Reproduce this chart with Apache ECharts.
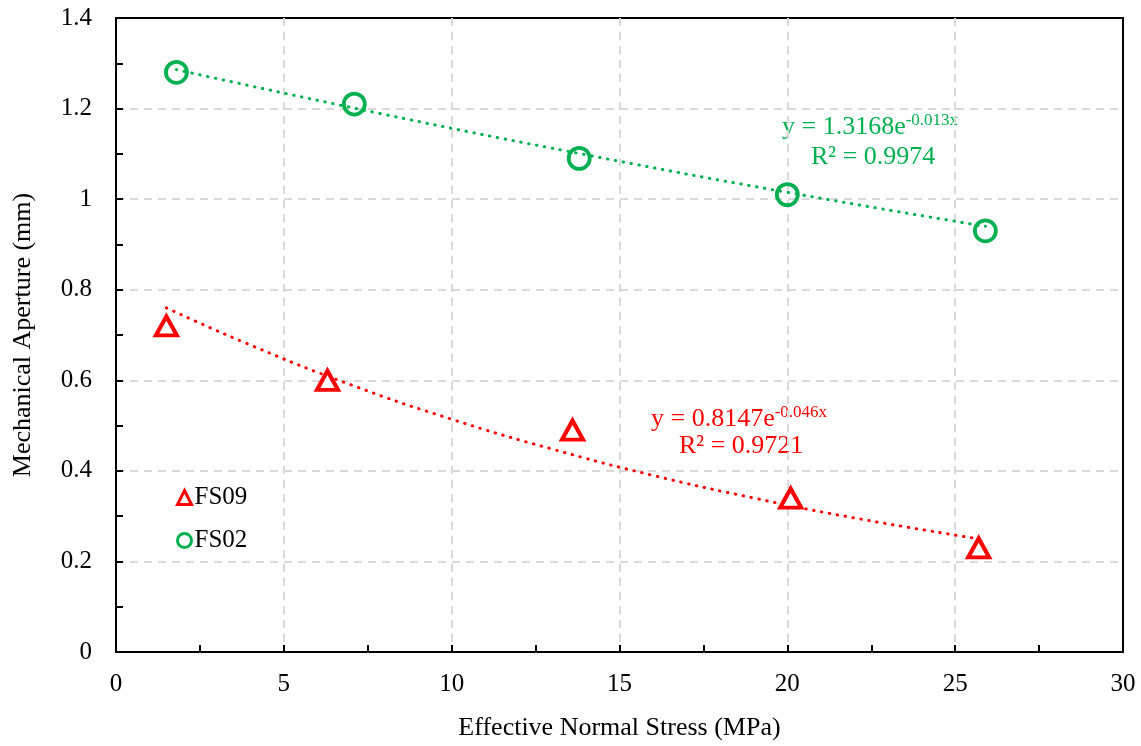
<!DOCTYPE html>
<html><head><meta charset="utf-8">
<script src="https://cdn.jsdelivr.net/npm/echarts@6/dist/echarts.min.js"></script>
<style>html,body{margin:0;padding:0;background:#fff}#c{width:1141px;height:746px}</style>
</head><body><div id="c"></div>
<script>
// Measured data
var fs09X = [1.5, 6.3, 13.6, 20.1, 25.7];
var fs09Y = [0.72, 0.60, 0.49, 0.34, 0.23];
var fs02X = [1.8, 7.1, 13.8, 20.0, 25.9];
var fs02Y = [1.28, 1.21, 1.09, 1.01, 0.93];
// Trendline points
var trend09X = [1.5, 4, 7, 10, 13, 16, 19, 22, 25.7];
var trend09Y = [0.76, 0.678, 0.59, 0.514, 0.448, 0.39, 0.34, 0.296, 0.25];
var trend02X = [1.8, 8, 14, 20, 25.9];
var trend02Y = [1.286, 1.187, 1.098, 1.015, 0.94];
var xTicks = [0, 5, 10, 15, 20, 25, 30];
var yTicks = [0, 0.2, 0.4, 0.6, 0.8, 1, 1.2, 1.4];

function pairs(xs, ys){ return xs.map(function(x,i){return [x, ys[i]];}); }
var FONT = '"Liberation Serif", "Times New Roman", serif';
var RED = '#FF0000', GREEN = '#00B050';

function eqText(col, main, sup) {
  return {
    text: '{b|' + main + '}{s|' + sup + '}',
    verticalAlign: 'middle', align: 'left',
    rich: {
      b: {fontFamily: FONT, fontSize: 26, fill: col, lineHeight: 30},
      s: {fontFamily: FONT, fontSize: 17, fill: col, verticalAlign: 'top', lineHeight: 17}
    }
  };
}

var chart = echarts.init(document.getElementById('c'));
chart.setOption({
  animation: false,
  backgroundColor: '#fff',
  grid: {left: 116, right: 18, top: 18, bottom: 90, show: true, borderColor: '#000', borderWidth: 2, containLabel: false},
  xAxis: {
    type: 'value', min: xTicks[0], max: xTicks[xTicks.length-1], interval: 5,
    name: 'Effective Normal Stress (MPa)', nameLocation: 'middle', nameGap: 63,
    nameTextStyle: {fontFamily: FONT, fontSize: 26, color: '#000'},
    axisLine: {show: true, lineStyle: {color: '#000', width: 2}},
    axisTick: {show: true, inside: true, length: 7, lineStyle: {color: '#000', width: 2}},
    minorTick: {show: true, splitNumber: 2, length: 7, lineStyle: {color: '#000', width: 2}},
    axisLabel: {fontFamily: FONT, fontSize: 25, color: '#000', margin: 20},
    splitLine: {show: true, showMinLine: false, showMaxLine: false, lineStyle: {color: '#d9d9d9', width: 2, type: [8, 6]}}
  },
  yAxis: {
    type: 'value', min: yTicks[0], max: yTicks[yTicks.length-1], interval: 0.2,
    name: 'Mechanical Aperture (mm)', nameLocation: 'middle', nameGap: 80, nameRotate: 90,
    nameTextStyle: {fontFamily: FONT, fontSize: 26, color: '#000'},
    axisLine: {show: true, lineStyle: {color: '#000', width: 2}},
    axisTick: {show: true, inside: true, length: 7, lineStyle: {color: '#000', width: 2}},
    minorTick: {show: true, splitNumber: 2, length: 7, lineStyle: {color: '#000', width: 2}},
    axisLabel: {fontFamily: FONT, fontSize: 25, color: '#000', margin: 24},
    splitLine: {show: true, showMinLine: false, showMaxLine: false, lineStyle: {color: '#d9d9d9', width: 2, type: [8, 6]}}
  },
  legend: {
    left: 176, top: 485, orient: 'vertical', itemGap: 18, itemWidth: 14, itemHeight: 14, padding: 0,
    data: ['FS09', 'FS02'],
    textStyle: {fontFamily: FONT, fontSize: 25, color: '#000', padding: [0,0,0,-2]},
    itemStyle: {borderWidth: 3}
  },
  series: [
    {name: 'trend09', type: 'line', data: pairs(trend09X, trend09Y), smooth: true, symbol: 'none',
      lineStyle: {color: RED, width: 3, type: [0.5, 7.5], cap: 'round'}, z: 2, silent: true},
    {name: 'trend02', type: 'line', data: pairs(trend02X, trend02Y), smooth: true, symbol: 'none',
      lineStyle: {color: GREEN, width: 3, type: [0.5, 7.5], cap: 'round'}, z: 2, silent: true},
    {name: 'FS09', type: 'scatter', data: pairs(fs09X, fs09Y), symbol: 'triangle', symbolSize: [21, 19],
      itemStyle: {color: '#fff', borderColor: RED, borderWidth: 4, opacity: 1}, z: 3},
    {name: 'FS02', type: 'scatter', data: pairs(fs02X, fs02Y), symbol: 'circle', symbolSize: 21,
      itemStyle: {color: 'rgba(255,255,255,0)', borderColor: GREEN, borderWidth: 3.8, opacity: 1}, z: 3}
  ],
  graphic: [
    {type: 'text', x: 782, y: 127, style: eqText(GREEN, 'y = 1.3168e', '-0.013x')},
    {type: 'text', x: 811, y: 157, style: {text: 'R² = 0.9974', fill: GREEN, fontFamily: FONT, fontSize: 26, verticalAlign: 'middle'}},
    {type: 'text', x: 651, y: 419, style: eqText(RED, 'y = 0.8147e', '-0.046x')},
    {type: 'text', x: 679, y: 446, style: {text: 'R² = 0.9721', fill: RED, fontFamily: FONT, fontSize: 26, verticalAlign: 'middle'}}
  ]
});
</script></body></html>
